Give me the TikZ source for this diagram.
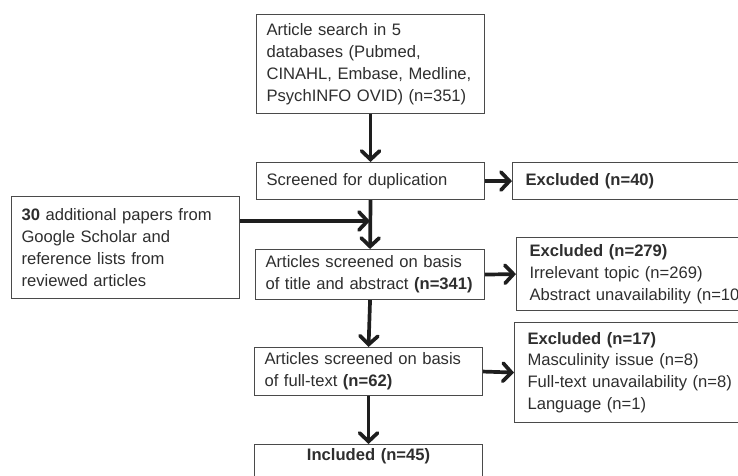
\documentclass[tikz,border=0pt]{standalone}
\usepackage{fontspec}
\setmainfont{Liberation Sans}
\usetikzlibrary{arrows.meta}
\definecolor{boxgray}{HTML}{4A4A4A}
\definecolor{txt}{HTML}{2E2E2E}
\definecolor{arrcol}{HTML}{1E1E1E}
\tikzset{
  box/.style={draw=boxgray, line width=1.1pt, anchor=north west, inner xsep=10pt,
    inner ysep=0pt, align=left, text=txt, font=\fontsize{16.6}{21.8}\selectfont},
  exbox/.style={box, inner xsep=13pt, minimum width=300pt, text width=274pt},
  arr/.style={draw=arrcol, line width=3.7pt,
    -{Straight Barb[length=8.5pt,width=18pt,line cap=round]}},
}
\begin{document}
\begin{tikzpicture}[x=1pt,y=-1pt]
\useasboundingbox (0,0) rectangle (738,475);
\clip (0,0) rectangle (738,475);
\node[box, minimum width=228pt, minimum height=99pt, text width=208pt] (search) at (256,14)
  {Article search in 5\\databases (Pubmed,\\CINAHL, Embase, Medline,\\PsychINFO OVID) (n=351)};
\node[box, minimum width=228pt, minimum height=37pt, text width=208pt] (dup) at (256,162)
  {Screened for duplication};
\node[exbox, minimum height=37pt] (ex1) at (512,162) {\textbf{Excluded (n=40)}};
\node[box, minimum width=228pt, minimum height=102pt, text width=208pt] (add) at (11,196)
  {\textbf{30} additional papers from\\Google Scholar and\\reference lists from\\reviewed articles};
\node[box, minimum width=229pt, minimum height=50pt, text width=209pt] (title) at (255,249)
  {Articles screened on basis\\of title and abstract \textbf{(n=341)}};
\node[exbox, minimum height=73pt] (ex2) at (516,237)
  {\textbf{Excluded (n=279)}\\Irrelevant topic (n=269)\\Abstract unavailability (n=10)};
\node[box, minimum width=228pt, minimum height=48pt, text width=208pt] (full) at (254,347)
  {Articles screened on basis\\of full-text \textbf{(n=62)}};
\node[exbox, minimum height=100pt] (ex3) at (514,322)
  {\textbf{Excluded (n=17)}\\Masculinity issue (n=8)\\Full-text unavailability (n=8)\\Language (n=1)};
\node[box, minimum width=228pt, text width=208pt, align=center, inner ysep=4pt,
  text height=12pt, text depth=24pt] (inc) at (254,444) {\textbf{Included (n=45)}};
\coordinate (join) at (370,221);
\draw[arr] (search.south) -- (dup.north);
\draw[arr] (dup.east) -- (ex1.west);
\draw[arr] (dup.south) -- (title.north);
\draw[arr] (add.east |- join) -- (join);
\draw[arr] (title.east) -- (ex2.west);
\draw[arr] (title.south) -- (full.north);
\draw[arr] (full.east) -- (ex3.west);
\draw[arr] (full.south) -- (inc.north);
\end{tikzpicture}
\end{document}
